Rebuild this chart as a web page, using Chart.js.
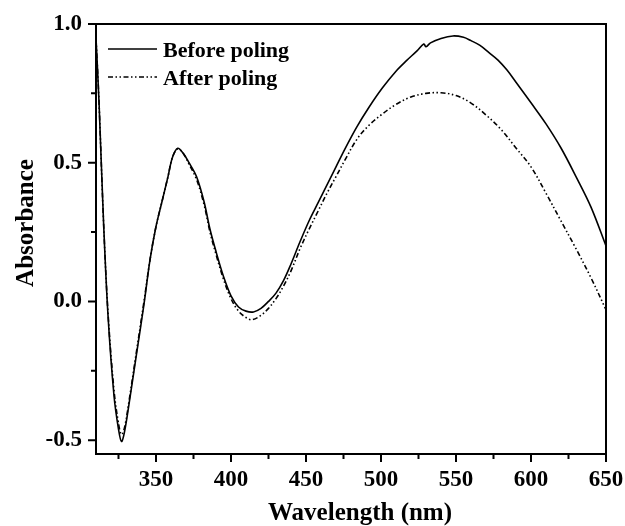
<!DOCTYPE html>
<html>
<head>
<meta charset="utf-8">
<script src="https://cdn.jsdelivr.net/npm/chart.js@4"></script>
<style>
  html, body { margin: 0; padding: 0; background: #fff; }
  #wrap { width: 625px; height: 526px; }
</style>
</head>
<body>
<div id="wrap"><canvas id="absChart" width="625" height="526"></canvas></div>
<script>
// wavelength (nm) / absorbance
const wlBefore = [310, 312, 315, 318, 322, 325, 327, 329, 332, 337, 342, 346, 350, 354, 358, 361, 364.5, 368, 372, 377, 382, 386, 390, 395, 400, 405, 410, 415, 420, 425, 430, 435, 440, 446, 452, 458, 464, 470, 476, 484, 492, 501, 510, 517, 524, 528.5, 530, 533, 540, 548, 555, 560, 566, 572, 578, 584, 590, 600, 610, 620, 630, 640, 650];
const absBefore = [0.95, 0.72, 0.29, -0.05, -0.34, -0.46, -0.505, -0.47, -0.37, -0.19, -0.01, 0.15, 0.27, 0.36, 0.45, 0.52, 0.552, 0.535, 0.50, 0.45, 0.36, 0.26, 0.18, 0.09, 0.02, -0.02, -0.035, -0.038, -0.025, 0.0, 0.03, 0.075, 0.135, 0.215, 0.29, 0.355, 0.42, 0.485, 0.55, 0.63, 0.70, 0.77, 0.83, 0.868, 0.903, 0.928, 0.918, 0.932, 0.948, 0.957, 0.952, 0.94, 0.923, 0.897, 0.87, 0.834, 0.79, 0.716, 0.64, 0.553, 0.45, 0.34, 0.20];

const wlAfter = [310, 312, 315, 318, 322, 325, 327, 329, 332, 337, 342, 346, 350, 354, 358, 361, 364.5, 368, 372, 377, 382, 386, 390, 395, 400, 405, 410, 414, 420, 425, 430, 435, 440, 446, 452, 458, 464, 470, 476, 484, 492, 500, 510, 520, 530, 540, 550, 560, 570, 580, 590, 600, 610, 620, 630, 640, 650];
const absAfter = [0.95, 0.72, 0.29, -0.04, -0.32, -0.44, -0.48, -0.455, -0.36, -0.18, 0.0, 0.15, 0.27, 0.36, 0.45, 0.52, 0.55, 0.535, 0.495, 0.44, 0.35, 0.25, 0.17, 0.08, 0.01, -0.035, -0.058, -0.066, -0.05, -0.025, 0.01, 0.055, 0.11, 0.19, 0.26, 0.325, 0.39, 0.45, 0.51, 0.585, 0.635, 0.672, 0.71, 0.737, 0.75, 0.752, 0.742, 0.715, 0.672, 0.62, 0.553, 0.485, 0.39, 0.29, 0.19, 0.085, -0.03];

const xTicks = [325, 350, 375, 400, 425, 450, 475, 500, 525, 550, 575, 600, 625, 650];
const yTicks = [-0.5, -0.25, 0, 0.25, 0.5, 0.75, 1.0];

const serif = 'Liberation Serif, Times New Roman, serif';

// frame, tick marks, legend and axis titles
const framePlugin = {
  id: 'frame',
  afterDraw(chart) {
    const ctx = chart.ctx;
    const a = chart.chartArea;
    const xs = chart.scales.x, ys = chart.scales.y;
    ctx.save();
    ctx.strokeStyle = '#000';
    ctx.lineWidth = 2;
    ctx.strokeRect(a.left, a.top, a.right - a.left, a.bottom - a.top);
    ctx.beginPath();
    xs.ticks.forEach(t => {
      const px = xs.getPixelForValue(t.value);
      const len = t.value % 50 === 0 ? 8 : 5;
      ctx.moveTo(px, a.bottom);
      ctx.lineTo(px, a.bottom + len);
    });
    ys.ticks.forEach(t => {
      const py = ys.getPixelForValue(t.value);
      const len = Math.abs(t.value * 2 - Math.round(t.value * 2)) < 1e-6 ? 8 : 5;
      ctx.moveTo(a.left, py);
      ctx.lineTo(a.left - len, py);
    });
    ctx.stroke();

    // legend
    ctx.font = 'bold 22px ' + serif;
    ctx.fillStyle = '#000';
    ctx.textAlign = 'left';
    ctx.textBaseline = 'alphabetic';
    chart.data.datasets.forEach((ds, i) => {
      const ly = a.top + 25 + i * 28;
      ctx.lineWidth = ds.borderWidth;
      ctx.setLineDash(ds.borderDash || []);
      ctx.beginPath();
      ctx.moveTo(a.left + 12, ly);
      ctx.lineTo(a.left + 61, ly);
      ctx.stroke();
      ctx.setLineDash([]);
      ctx.fillText(ds.label, a.left + 67, ly + 8);
    });

    ctx.font = 'bold 25px ' + serif;
    ctx.textAlign = 'center';
    ctx.fillText('Wavelength (nm)', 360, 520);
    ctx.translate(33, 223);
    ctx.rotate(-Math.PI / 2);
    ctx.fillText('Absorbance', 0, 0);
    ctx.restore();
  }
};

const ctx = document.getElementById('absChart').getContext('2d');
const absChart = new Chart(ctx, {
  type: 'line',
  data: {
    datasets: [{
      label: 'Before poling',
      data: wlBefore.map((w, i) => ({ x: w, y: absBefore[i] })),
      borderColor: '#000',
      backgroundColor: '#000',
      borderWidth: 1.6,
      pointRadius: 0,
      tension: 0.35
    }, {
      label: 'After poling',
      data: wlAfter.map((w, i) => ({ x: w, y: absAfter[i] })),
      borderColor: '#000',
      backgroundColor: '#000',
      borderWidth: 1.6,
      borderDash: [5, 2.5, 1.5, 2.5, 1.5, 2.5],
      pointRadius: 0,
      tension: 0.35
    }]
  },
  options: {
    responsive: false,
    animation: false,
    layout: { padding: { top: 24, right: 19, left: 0, bottom: 0 } },
    plugins: {
      tooltip: { enabled: false },
      legend: { display: false }
    },
    scales: {
      x: {
        type: 'linear',
        min: 310,
        max: 650,
        afterBuildTicks: s => { s.ticks = xTicks.map(v => ({ value: v })); },
        afterFit: s => { s.height = 72; s.paddingLeft = 0; s.paddingRight = 0; },
        grid: { display: false, drawTicks: false },
        border: { display: false },
        ticks: {
          color: '#000',
          padding: 12,
          maxRotation: 0,
          autoSkip: false,
          font: { family: serif, size: 23, weight: 'bold' },
          callback: v => (v % 50 === 0 ? String(v) : '')
        }
      },
      y: {
        type: 'linear',
        min: -0.55,
        max: 1.0,
        afterBuildTicks: s => { s.ticks = yTicks.map(v => ({ value: v })); },
        afterFit: s => { s.width = 96; s.paddingTop = 0; s.paddingBottom = 0; },
        grid: { display: false, drawTicks: false },
        border: { display: false },
        ticks: {
          color: '#000',
          padding: 14,
          autoSkip: false,
          font: { family: serif, size: 23, weight: 'bold' },
          callback: v => (Math.abs(v * 2 - Math.round(v * 2)) < 1e-6 ? v.toFixed(1) : '')
        }
      }
    }
  },
  plugins: [framePlugin]
});
</script>
</body>
</html>
